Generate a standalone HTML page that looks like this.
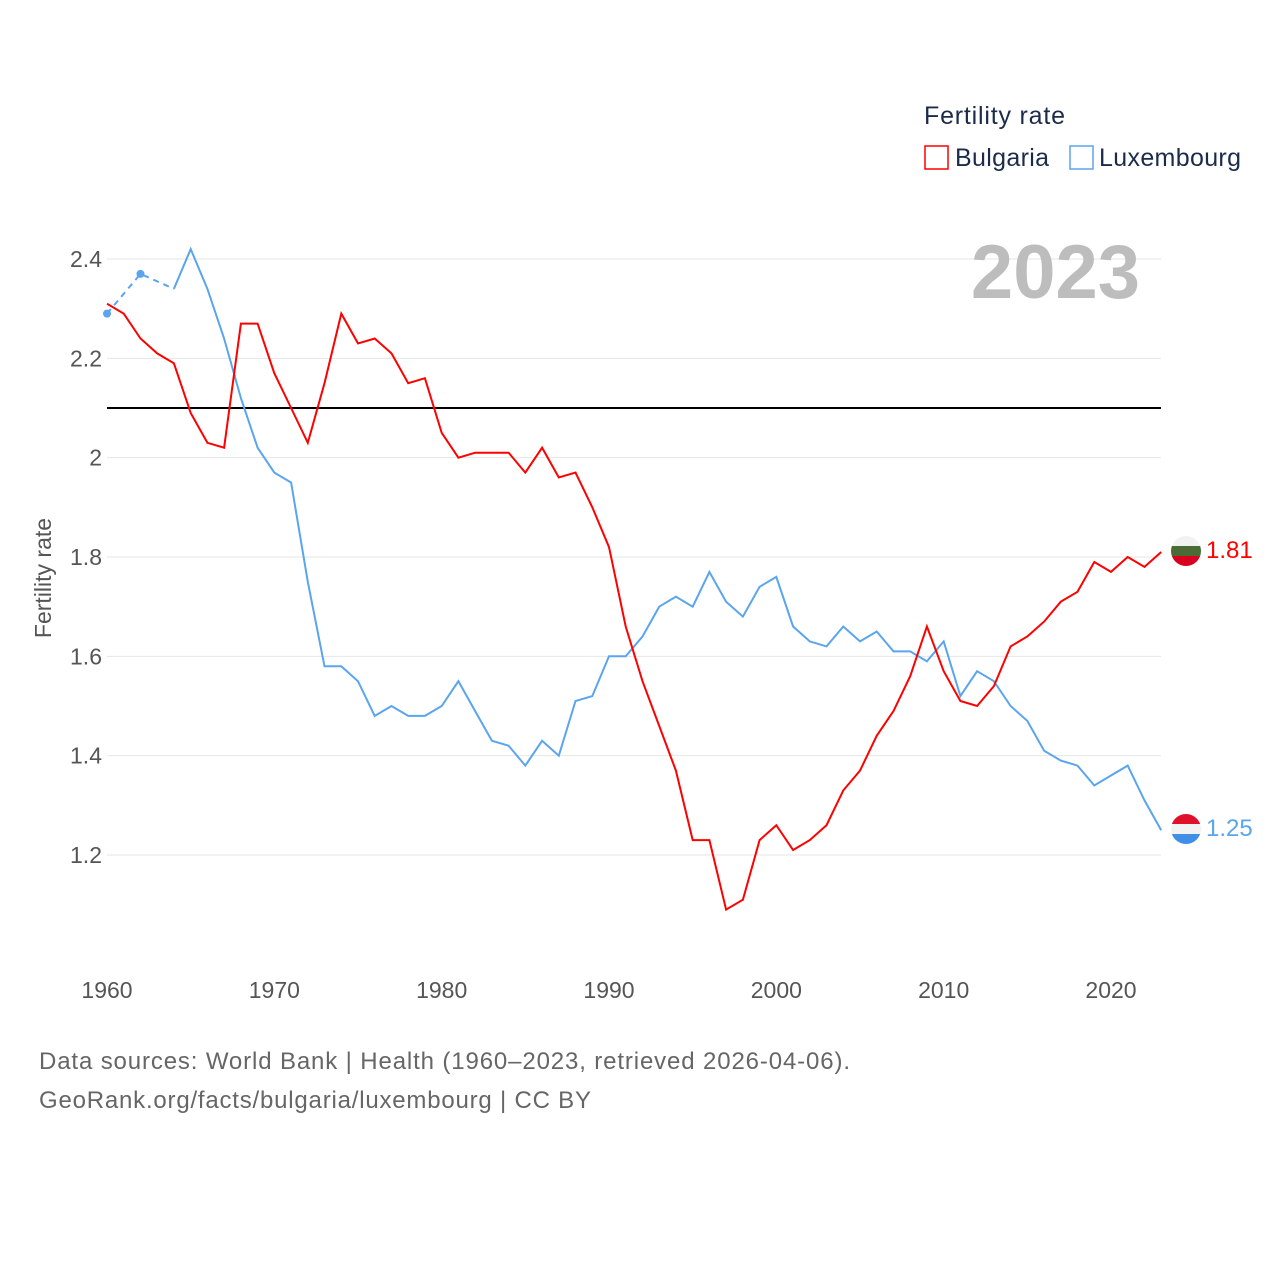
<!DOCTYPE html>
<html><head><meta charset="utf-8"><style>
body{margin:0;background:#fff;font-family:"Liberation Sans",sans-serif}
svg text{font-family:"Liberation Sans",sans-serif}
</style></head><body>
<svg width="1280" height="1280" viewBox="0 0 1280 1280">
<defs>
<clipPath id="cb"><circle cx="1186" cy="551" r="15"/></clipPath>
<clipPath id="cl"><circle cx="1186" cy="829" r="15"/></clipPath>
</defs>
<g id="grid"></g>
<g id="axes"></g>
<g id="series"></g>
<text x="1140" y="298" text-anchor="end" font-size="76" font-weight="bold" fill="#bdbdbd">2023</text>
<text x="924" y="124" font-size="25" fill="#1c2b4a" textLength="141">Fertility rate</text>
<g><rect x="925" y="146" width="23" height="23" fill="none" stroke="#f00" stroke-width="1.5"/><text x="955" y="166" font-size="25" fill="#1c2b4a" textLength="94">Bulgaria</text></g>
<g><rect x="1070" y="146" width="23" height="23" fill="none" stroke="#5aa5ee" stroke-width="1.5"/><text x="1099" y="166" font-size="25" fill="#1c2b4a" textLength="142">Luxembourg</text></g>
<text transform="translate(51,578) rotate(-90)" text-anchor="middle" font-size="23" fill="#555">Fertility rate</text>
<g clip-path="url(#cb)"><rect x="1170" y="535" width="32" height="11" fill="#f2f2f2"/><rect x="1170" y="546" width="32" height="10" fill="#4a6b35"/><rect x="1170" y="556" width="32" height="11" fill="#d9001f"/></g>
<g clip-path="url(#cl)"><rect x="1170" y="813" width="32" height="11" fill="#e0102c"/><rect x="1170" y="824" width="32" height="10" fill="#f2f2f2"/><rect x="1170" y="834" width="32" height="11" fill="#3f8fe8"/></g>
<text x="1206" y="558" font-size="24" fill="#f00">1.81</text>
<text x="1206" y="836" font-size="24" fill="#5aa5ee">1.25</text>
<text x="39" y="1069" font-size="24" fill="#666" textLength="811">Data sources: World Bank | Health (1960–2023, retrieved 2026-04-06).</text>
<text x="39" y="1108" font-size="24" fill="#666" textLength="552">GeoRank.org/facts/bulgaria/luxembourg | CC BY</text>
</svg>
<script>
const years=[];for(let y=1960;y<=2023;y++)years.push(y);
const bulgaria=[2.31,2.29,2.24,2.21,2.19,2.09,2.03,2.02,2.27,2.27,2.17,2.10,2.03,2.15,2.29,2.23,2.24,2.21,2.15,2.16,2.05,2.00,2.01,2.01,2.01,1.97,2.02,1.96,1.97,1.90,1.82,1.66,1.55,1.46,1.37,1.23,1.23,1.09,1.11,1.23,1.26,1.21,1.23,1.26,1.33,1.37,1.44,1.49,1.56,1.66,1.57,1.51,1.50,1.54,1.62,1.64,1.67,1.71,1.73,1.79,1.77,1.80,1.78,1.81];
const luxembourg=[2.29,null,2.37,null,2.34,2.42,2.34,2.24,2.12,2.02,1.97,1.95,1.75,1.58,1.58,1.55,1.48,1.50,1.48,1.48,1.50,1.55,1.49,1.43,1.42,1.38,1.43,1.40,1.51,1.52,1.60,1.60,1.64,1.70,1.72,1.70,1.77,1.71,1.68,1.74,1.76,1.66,1.63,1.62,1.66,1.63,1.65,1.61,1.61,1.59,1.63,1.52,1.57,1.55,1.50,1.47,1.41,1.39,1.38,1.34,1.36,1.38,1.31,1.25];
const yTicks=[1.2,1.4,1.6,1.8,2.0,2.2,2.4];
const yTickLabels=["1.2","1.4","1.6","1.8","2","2.2","2.4"];
const xTicks=[1960,1970,1980,1990,2000,2010,2020];
const refValue=2.1;
const X=v=>107+(v-1960)*(1111-107)/60;
const Y=v=>259+(2.4-v)*(855-259)/1.2;
const NS="http://www.w3.org/2000/svg";
function mk(t,a,p){const e=document.createElementNS(NS,t);for(const k in a)e.setAttribute(k,a[k]);p.appendChild(e);return e;}
const grid=document.getElementById('grid'),axes=document.getElementById('axes'),ser=document.getElementById('series');
yTicks.forEach((v,i)=>{
 const l=mk('line',{x1:107,x2:1161,y1:Y(v),y2:Y(v),stroke:'#e6e6e6','stroke-width':1},grid);
 
 
 const t=mk('text',{x:102,y:Y(v)+8,'text-anchor':'end','font-size':23,fill:'#555'},axes);t.textContent=yTickLabels[i];
 
 
});
xTicks.forEach(v=>{
 const t=mk('text',{x:X(v),y:998,'text-anchor':'middle','font-size':23,fill:'#555'},axes);t.textContent=v;
 
 
});
const ref=mk('line',{x1:107,x2:1161,y1:Y(refValue),y2:Y(refValue),stroke:'#000','stroke-width':2},ser);


function path(vals){let d='';let s=false;vals.forEach((v,i)=>{if(v==null){s=false;return;}d+=(s?'L':'M')+X(years[i]).toFixed(1)+','+Y(v).toFixed(1);s=true;});return d;}
const gap=mk('path',{d:'M'+X(years[0])+','+Y(luxembourg[0])+'L'+X(years[2])+','+Y(luxembourg[2])+'L'+X(years[4])+','+Y(luxembourg[4]),fill:'none',stroke:'#5aa5ee','stroke-width':2,'stroke-dasharray':'6,5'},ser);


[0,2].forEach(i=>{const c=mk('circle',{cx:X(years[i]),cy:Y(luxembourg[i]),r:4,fill:'#5aa5ee'},ser);
 
 });
const lux=mk('path',{d:path(luxembourg.map((v,i)=>i<4?null:v)),fill:'none',stroke:'#5aa5ee','stroke-width':2},ser);


const bg=mk('path',{d:path(bulgaria),fill:'none',stroke:'#f00','stroke-width':2},ser);


</script>
</body></html>
